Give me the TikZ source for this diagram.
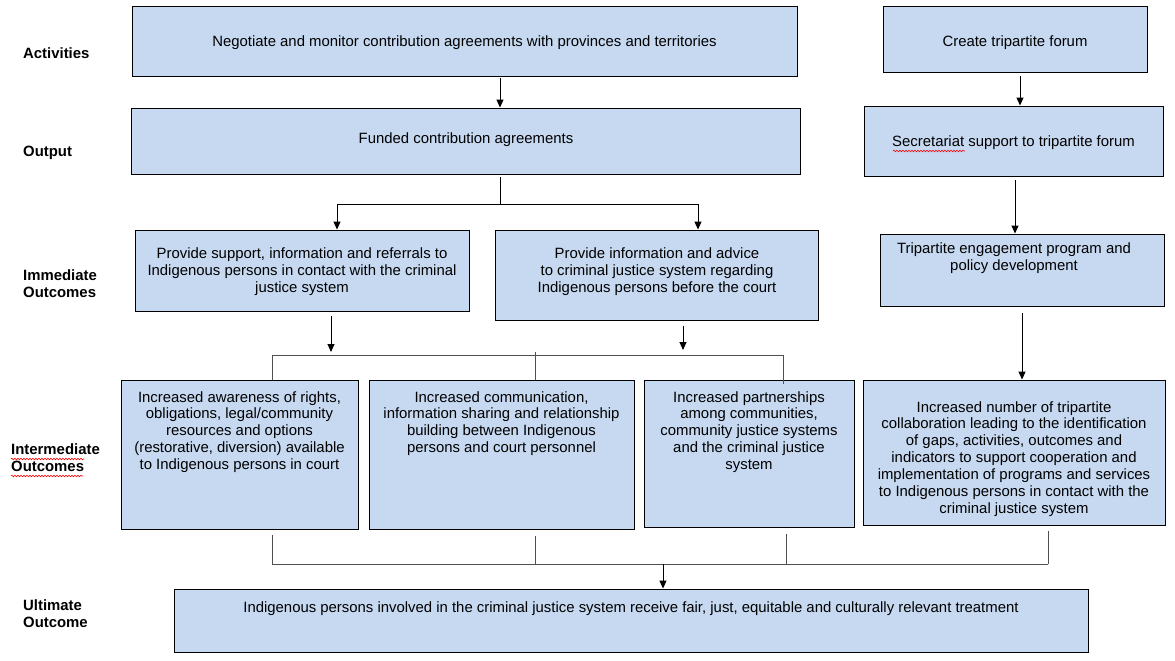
\documentclass[tikz,border=0pt]{standalone}
\usepackage{fontspec}
\setmainfont{Liberation Sans}
\usetikzlibrary{arrows.meta,fit,decorations.pathmorphing}
\definecolor{boxfill}{HTML}{C6D9F1}
\definecolor{bracket}{HTML}{505050}
\tikzset{
  box/.style={draw=black,line width=0.9pt,fill=boxfill,inner sep=0pt},
  txt/.style={font=\fontsize{14.9}{16.9}\selectfont,align=center,inner sep=0pt},
  lbl/.style={font=\fontsize{14.9}{16.9}\selectfont\bfseries,align=left,inner sep=0pt,anchor=west},
  arr/.style={draw=black,line width=0.9pt,-{Triangle[length=8pt,width=7pt]}},
  brk/.style={draw=bracket,line width=0.9pt},
  squig/.style={draw=red,line width=0.6pt,decorate,decoration={snake,segment length=3pt,amplitude=0.8pt}}
}
\begin{document}
\begin{tikzpicture}[x=1pt,y=-1pt]
\useasboundingbox (0,0) rectangle (1175,661);
% labels
\node[lbl] (l1) at (23,53) {Activities};
\node[lbl] (l2) at (23,153) {Output};
\node[lbl] (l3) at (23,284) {Immediate\\Outcomes};
\node[lbl] (l4) at (11,458) {Intermediate\\Outcomes};
\node[lbl] (l5) at (23,614) {Ultimate\\Outcome};
\draw[squig] (11,459) -- (84,459);
\draw[squig] (11,476) -- (83,476);
% boxes
\node[box,fit={(132,6)(797,76)}] (a1) {};
\node[box,fit={(883,6)(1147,72)}] (a2) {};
\node[box,fit={(131,108)(800,174)}] (o1) {};
\node[box,fit={(864,106)(1163,176)}] (o2) {};
\node[box,fit={(135,230)(469,311)}] (i1) {};
\node[box,fit={(495,230)(818,320)}] (i2) {};
\node[box,fit={(880,234)(1164,306)}] (i3) {};
\node[box,fit={(121,380)(358,529)}] (m1) {};
\node[box,fit={(369,380)(634,529)}] (m2) {};
\node[box,fit={(644,380)(854,527)}] (m3) {};
\node[box,fit={(863,380)(1165,525)}] (m4) {};
\node[box,fit={(174,589)(1088,652)}] (u) {};
% texts
\node[txt] (ta1) at (464.5,43) {Negotiate and monitor contribution agreements with provinces and territories};
\node[txt] (ta2) at (1015,43) {Create tripartite forum};
\node[txt] (to1) at (466,140) {Funded contribution agreements};
\node[txt] (to2) at (1013.5,143) {Secretariat support to tripartite forum};
\draw[squig] (893,151) -- (965,151);
\node[txt,anchor=north] (ti1) at (302,248) {Provide support, information and referrals to\\Indigenous persons in contact with the criminal\\justice system};
\node[txt,anchor=north] (ti2) at (657,248) {Provide information and advice\\to criminal justice system regarding\\Indigenous persons before the court};
\node[txt,anchor=north] (ti3) at (1014,243) {Tripartite engagement program and\\policy development};
\node[txt,anchor=north] (tm1) at (239.5,391) {Increased awareness of rights,\\obligations, legal/community\\resources and options\\(restorative, diversion) available\\to Indigenous persons in court};
\node[txt,anchor=north] (tm2) at (501.5,391) {Increased communication,\\information sharing and relationship\\building between Indigenous\\persons and court personnel};
\node[txt,anchor=north] (tm3) at (749,391) {Increased partnerships\\among communities,\\community justice systems\\and the criminal justice\\system};
\node[txt,anchor=north] (tm4) at (1014,401) {Increased number of tripartite\\collaboration leading to the identification\\of gaps, activities, outcomes and\\indicators to support cooperation and\\implementation of programs and services\\to Indigenous persons in contact with the\\criminal justice system};
\node[txt] (tu) at (631,609) {Indigenous persons involved in the criminal justice system receive fair, just, equitable and culturally relevant treatment};
% x positions of connectors
\coordinate (x500) at (500,0);
\coordinate (x1020) at (1020,0);
\coordinate (x337) at (337,0);
\coordinate (x698) at (698,0);
\coordinate (x1015) at (1015,0);
\coordinate (x331) at (331,0);
\coordinate (x683) at (683,0);
\coordinate (x272) at (272,0);
\coordinate (x535) at (535,0);
\coordinate (x783) at (783,0);
\coordinate (x786) at (786,0);
\coordinate (x1022) at (1022,0);
\coordinate (x1048) at (1048,0);
\coordinate (x663) at (663,0);
% junctions
\coordinate (j1) at (500,204);
\coordinate (h1) at (272,355);
\coordinate (h2) at (783,355);
\coordinate (h3) at (535,352);
\coordinate (k1) at (272,564);
\coordinate (k2) at (1048,564);
\coordinate (k3) at (663,564);
\coordinate (p331) at (331,352);
\coordinate (p683) at (683,350);
\coordinate (k535) at (535,564);
\coordinate (k786) at (786,564);
% connectors
\draw[arr,shorten <=2pt] (a1.south -| x500) -- (o1.north -| x500);
\draw[arr,shorten <=4pt] (a2.south -| x1020) -- (o2.north -| x1020);
\draw[draw=black,line width=0.9pt,shorten <=3pt] (o1.south -| x500) -- (j1);
\draw[arr] (j1) -| (i1.north -| x337);
\draw[arr] (j1) -| (i2.north -| x698);
\draw[arr,shorten <=4pt] (o2.south -| x1015) -- (i3.north -| x1015);
\draw[arr,shorten <=5pt] (i1.south -| x331) -- (p331);
\draw[arr,shorten <=6pt] (i2.south -| x683) -- (p683);
\draw[brk] (m1.north -| x272) -- (h1) -- (h2) -- ([yshift=-4pt]m3.north -| x783);
\draw[brk] (h3) -- (m2.north -| x535);
\draw[arr,shorten <=7pt] (i3.south -| x1022) -- (m4.north -| x1022);
\draw[brk,shorten <=6pt] (m1.south -| x272) -- (k1) -- (k2);
\draw[brk,shorten >=6pt] (k2) -- (m4.south -| x1048);
\draw[brk,shorten <=7pt] (m2.south -| x535) -- (k535);
\draw[brk,shorten <=7pt] (m3.south -| x786) -- (k786);
\draw[arr] (k3) -- (u.north -| x663);
\end{tikzpicture}
\end{document}
